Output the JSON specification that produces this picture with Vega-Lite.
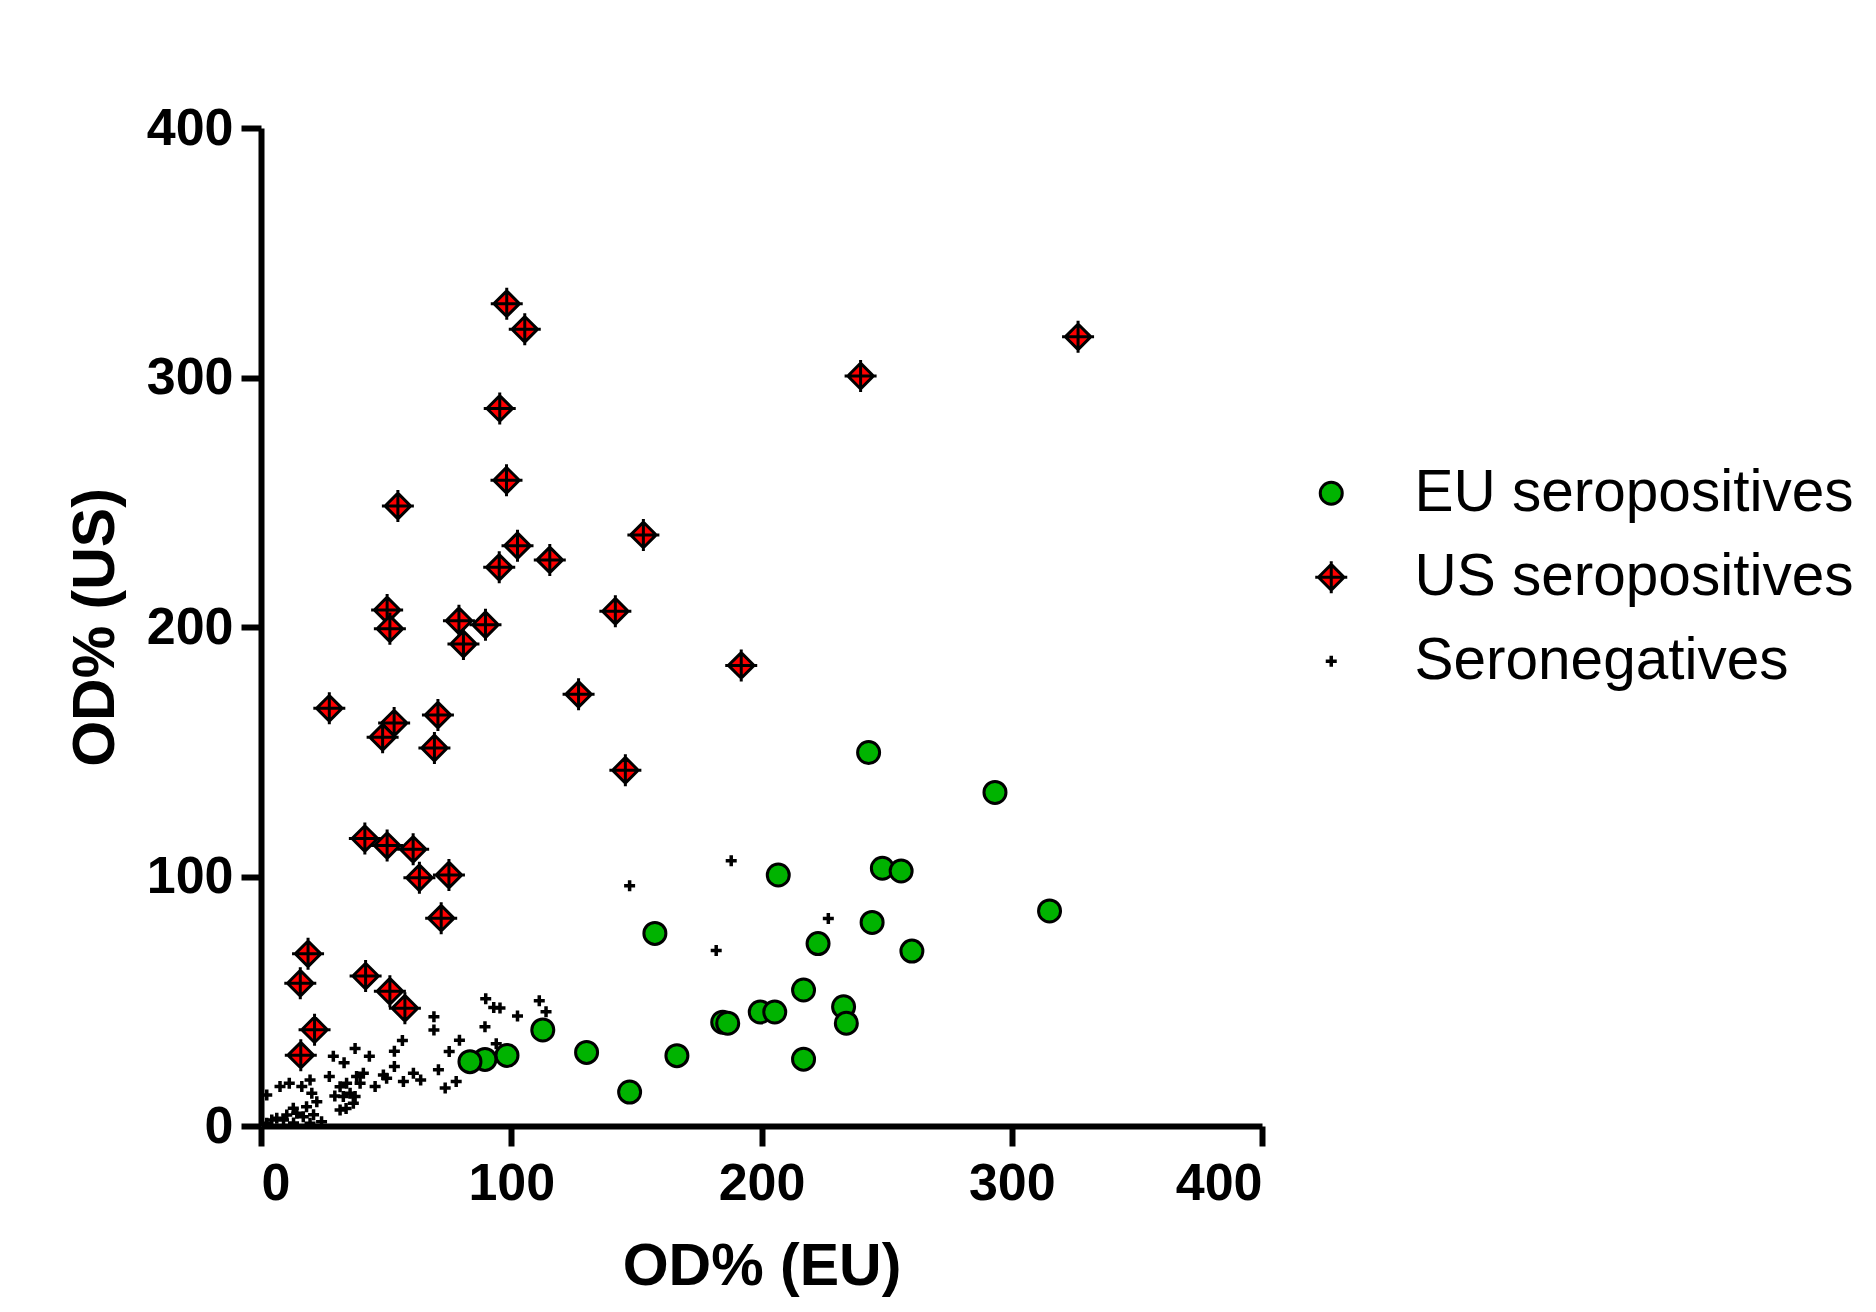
{
  "$schema": "https://vega.github.io/schema/vega-lite/v6.json",
  "autosize": {"type": "none"},
  "padding": {"left": 261, "top": 128, "right": 614, "bottom": 186},
  "width": 1001,
  "height": 998,
  "background": "white",
  "config": {
    "view": {"stroke": null},
    "font": "Liberation Sans",
    "axis": {
      "grid": false,
      "domainColor": "black",
      "domainWidth": 6,
      "tickColor": "black",
      "tickWidth": 6,
      "tickSize": 20,
      "labelColor": "black",
      "labelFont": "Liberation Sans",
      "labelFontSize": 52,
      "labelFontWeight": "bold",
      "titleColor": "black",
      "titleFont": "Liberation Sans",
      "titleFontSize": 59,
      "titleFontWeight": "bold"
    }
  },
  "data": {
    "values": [
      {"group": "EU seropositives", "eu": 242.8, "us": 149.7},
      {"group": "EU seropositives", "eu": 293.3, "us": 133.7},
      {"group": "EU seropositives", "eu": 206.7, "us": 100.6},
      {"group": "EU seropositives", "eu": 248.3, "us": 103.3},
      {"group": "EU seropositives", "eu": 255.8, "us": 102.2},
      {"group": "EU seropositives", "eu": 315.1, "us": 86.2},
      {"group": "EU seropositives", "eu": 244.2, "us": 81.6},
      {"group": "EU seropositives", "eu": 157.4, "us": 77.2},
      {"group": "EU seropositives", "eu": 222.6, "us": 73.1},
      {"group": "EU seropositives", "eu": 260.1, "us": 70.1},
      {"group": "EU seropositives", "eu": 216.8, "us": 54.5},
      {"group": "EU seropositives", "eu": 232.8, "us": 47.8},
      {"group": "EU seropositives", "eu": 233.9, "us": 41.2},
      {"group": "EU seropositives", "eu": 199.5, "us": 45.7},
      {"group": "EU seropositives", "eu": 205.3, "us": 45.7},
      {"group": "EU seropositives", "eu": 184.5, "us": 41.6},
      {"group": "EU seropositives", "eu": 186.5, "us": 41.2},
      {"group": "EU seropositives", "eu": 112.6, "us": 38.5},
      {"group": "EU seropositives", "eu": 130.1, "us": 29.5},
      {"group": "EU seropositives", "eu": 166.2, "us": 28.2},
      {"group": "EU seropositives", "eu": 216.8, "us": 26.8},
      {"group": "EU seropositives", "eu": 147.3, "us": 13.6},
      {"group": "EU seropositives", "eu": 98.3, "us": 28.3},
      {"group": "EU seropositives", "eu": 89.5, "us": 26.7},
      {"group": "EU seropositives", "eu": 83.5, "us": 25.8},
      {"group": "US seropositives", "eu": 98.2, "us": 329.6},
      {"group": "US seropositives", "eu": 105.4, "us": 319.3},
      {"group": "US seropositives", "eu": 326.5, "us": 316.3},
      {"group": "US seropositives", "eu": 239.6, "us": 300.6},
      {"group": "US seropositives", "eu": 95.4, "us": 287.6},
      {"group": "US seropositives", "eu": 98.1, "us": 258.8},
      {"group": "US seropositives", "eu": 54.7, "us": 248.5},
      {"group": "US seropositives", "eu": 152.8, "us": 236.9},
      {"group": "US seropositives", "eu": 102.5, "us": 232.6},
      {"group": "US seropositives", "eu": 115.4, "us": 226.9},
      {"group": "US seropositives", "eu": 95.2, "us": 223.9},
      {"group": "US seropositives", "eu": 141.6, "us": 206.3},
      {"group": "US seropositives", "eu": 50.4, "us": 206.8},
      {"group": "US seropositives", "eu": 51.5, "us": 199.3},
      {"group": "US seropositives", "eu": 89.7, "us": 200.9},
      {"group": "US seropositives", "eu": 79.1, "us": 202.5},
      {"group": "US seropositives", "eu": 80.9, "us": 193.2},
      {"group": "US seropositives", "eu": 191.9, "us": 184.6},
      {"group": "US seropositives", "eu": 126.9, "us": 173.0},
      {"group": "US seropositives", "eu": 27.3, "us": 167.4},
      {"group": "US seropositives", "eu": 70.7, "us": 164.7},
      {"group": "US seropositives", "eu": 53.2, "us": 161.5},
      {"group": "US seropositives", "eu": 48.6, "us": 155.8},
      {"group": "US seropositives", "eu": 69.3, "us": 151.5},
      {"group": "US seropositives", "eu": 145.6, "us": 142.6},
      {"group": "US seropositives", "eu": 41.5, "us": 115.2},
      {"group": "US seropositives", "eu": 50.4, "us": 112.4},
      {"group": "US seropositives", "eu": 60.8, "us": 110.9},
      {"group": "US seropositives", "eu": 63.3, "us": 99.5},
      {"group": "US seropositives", "eu": 75.1, "us": 100.6},
      {"group": "US seropositives", "eu": 72.0, "us": 83.3},
      {"group": "US seropositives", "eu": 18.8, "us": 69.0},
      {"group": "US seropositives", "eu": 15.7, "us": 57.2},
      {"group": "US seropositives", "eu": 41.8, "us": 60.1},
      {"group": "US seropositives", "eu": 51.5, "us": 54.0},
      {"group": "US seropositives", "eu": 57.5, "us": 47.2},
      {"group": "US seropositives", "eu": 21.4, "us": 38.6},
      {"group": "US seropositives", "eu": 15.9, "us": 28.4},
      {"group": "Seronegatives", "eu": 69.1, "us": 43.8},
      {"group": "Seronegatives", "eu": 69.1, "us": 38.5},
      {"group": "Seronegatives", "eu": 89.8, "us": 51.0},
      {"group": "Seronegatives", "eu": 93.0, "us": 47.5},
      {"group": "Seronegatives", "eu": 111.2, "us": 50.2},
      {"group": "Seronegatives", "eu": 113.9, "us": 45.8},
      {"group": "Seronegatives", "eu": 102.5, "us": 44.1},
      {"group": "Seronegatives", "eu": 89.5, "us": 39.8},
      {"group": "Seronegatives", "eu": 79.3, "us": 34.4},
      {"group": "Seronegatives", "eu": 75.2, "us": 29.9},
      {"group": "Seronegatives", "eu": 94.0, "us": 33.0},
      {"group": "Seronegatives", "eu": 70.9, "us": 22.5},
      {"group": "Seronegatives", "eu": 78.0, "us": 17.8},
      {"group": "Seronegatives", "eu": 73.6, "us": 15.2},
      {"group": "Seronegatives", "eu": 56.5, "us": 34.3},
      {"group": "Seronegatives", "eu": 53.3, "us": 30.0},
      {"group": "Seronegatives", "eu": 53.3, "us": 23.8},
      {"group": "Seronegatives", "eu": 56.9, "us": 17.8},
      {"group": "Seronegatives", "eu": 60.9, "us": 21.1},
      {"group": "Seronegatives", "eu": 63.8, "us": 18.4},
      {"group": "Seronegatives", "eu": 48.9, "us": 20.4},
      {"group": "Seronegatives", "eu": 45.6, "us": 15.8},
      {"group": "Seronegatives", "eu": 50.2, "us": 19.1},
      {"group": "Seronegatives", "eu": 37.6, "us": 31.1},
      {"group": "Seronegatives", "eu": 43.3, "us": 28.0},
      {"group": "Seronegatives", "eu": 33.2, "us": 25.4},
      {"group": "Seronegatives", "eu": 28.9, "us": 28.0},
      {"group": "Seronegatives", "eu": 27.3, "us": 19.8},
      {"group": "Seronegatives", "eu": 31.6, "us": 15.7},
      {"group": "Seronegatives", "eu": 35.6, "us": 13.1},
      {"group": "Seronegatives", "eu": 38.2, "us": 19.8},
      {"group": "Seronegatives", "eu": 40.9, "us": 21.1},
      {"group": "Seronegatives", "eu": 32.9, "us": 11.8},
      {"group": "Seronegatives", "eu": 36.9, "us": 9.1},
      {"group": "Seronegatives", "eu": 31.6, "us": 6.4},
      {"group": "Seronegatives", "eu": 39.6, "us": 17.1},
      {"group": "Seronegatives", "eu": 34.2, "us": 17.1},
      {"group": "Seronegatives", "eu": 37.6, "us": 11.8},
      {"group": "Seronegatives", "eu": 29.5, "us": 12.0},
      {"group": "Seronegatives", "eu": 34.0, "us": 7.0},
      {"group": "Seronegatives", "eu": 19.6, "us": 18.4},
      {"group": "Seronegatives", "eu": 16.3, "us": 15.8},
      {"group": "Seronegatives", "eu": 11.3, "us": 17.1},
      {"group": "Seronegatives", "eu": 7.6, "us": 15.8},
      {"group": "Seronegatives", "eu": 20.3, "us": 13.1},
      {"group": "Seronegatives", "eu": 22.3, "us": 9.7},
      {"group": "Seronegatives", "eu": 18.2, "us": 7.7},
      {"group": "Seronegatives", "eu": 14.3, "us": 5.1},
      {"group": "Seronegatives", "eu": 10.3, "us": 4.4},
      {"group": "Seronegatives", "eu": 6.3, "us": 3.1},
      {"group": "Seronegatives", "eu": 16.9, "us": 3.7},
      {"group": "Seronegatives", "eu": 12.9, "us": 7.1},
      {"group": "Seronegatives", "eu": 9.0, "us": 2.4},
      {"group": "Seronegatives", "eu": 4.3, "us": 2.4},
      {"group": "Seronegatives", "eu": 2.3, "us": 1.1},
      {"group": "Seronegatives", "eu": 19.6, "us": 1.1},
      {"group": "Seronegatives", "eu": 24.2, "us": 1.7},
      {"group": "Seronegatives", "eu": 21.0, "us": 4.5},
      {"group": "Seronegatives", "eu": 13.0, "us": 1.2},
      {"group": "Seronegatives", "eu": 2.3, "us": 12.4},
      {"group": "Seronegatives", "eu": 95.5, "us": 47.3},
      {"group": "Seronegatives", "eu": 147.3, "us": 96.3},
      {"group": "Seronegatives", "eu": 187.9, "us": 106.3},
      {"group": "Seronegatives", "eu": 226.7, "us": 83.2},
      {"group": "Seronegatives", "eu": 181.9, "us": 70.3}
    ]
  },
  "mark": {"type": "point", "filled": true, "stroke": "black", "opacity": 1},
  "encoding": {
    "x": {
      "field": "eu", "type": "quantitative",
      "scale": {"domain": [0, 400], "nice": false, "zero": true},
      "axis": {"title": "OD% (EU)", "values": [0, 100, 200, 300, 400], "labelPadding": 12, "titlePadding": 28}
    },
    "y": {
      "field": "us", "type": "quantitative",
      "scale": {"domain": [0, 400], "nice": false, "zero": true},
      "axis": {"title": "OD% (US)", "values": [0, 100, 200, 300, 400], "labelPadding": 8, "titlePadding": 21}
    },
    "fill": {
      "field": "group", "type": "nominal",
      "scale": {"domain": ["EU seropositives", "US seropositives", "Seronegatives"], "range": ["#00b300", "#ff0000", "#000000"]},
      "legend": {
        "title": null,
        "orient": "none",
        "legendX": 1041,
        "legendY": 336,
        "padding": 0,
        "labelFont": "Liberation Sans",
        "labelFontSize": 58.5,
        "labelColor": "black",
        "labelOffset": 54,
        "rowPadding": 25,
        "symbolStrokeColor": "black",
        "symbolOpacity": 1,
        "labelLimit": 600
      }
    },
    "shape": {
      "field": "group", "type": "nominal",
      "scale": {"domain": ["EU seropositives", "US seropositives", "Seronegatives"], "range": ["circle", "M-0.8,0L0,-0.8L0.8,0L0,0.8Z M-1,0H1 M0,-1V1", "M-1,0H1 M0,-1V1"]}
    },
    "size": {
      "field": "group", "type": "nominal",
      "scale": {"type": "ordinal", "domain": ["EU seropositives", "US seropositives", "Seronegatives"], "range": [484, 1024, 121]}
    },
    "strokeWidth": {
      "field": "group", "type": "nominal",
      "scale": {"type": "ordinal", "domain": ["EU seropositives", "US seropositives", "Seronegatives"], "range": [3, 3, 3.5]}
    }
  }
}
